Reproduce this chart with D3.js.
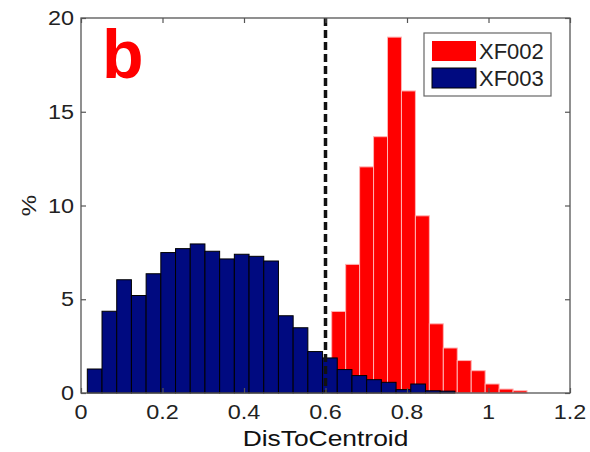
<!DOCTYPE html>
<html>
<head>
<meta charset="utf-8">
<script src="https://cdn.jsdelivr.net/npm/d3@7"></script>
<style>
  html, body { margin: 0; padding: 0; background: #fff; }
  svg { display: block; }
</style>
</head>
<body>
<svg id="chart" width="590" height="452"></svg>
<script>
// Histogram of distance to centroid (percent of samples per bin)
const seriesNames = ["XF002", "XF003"];
const seriesColors = ["#ff0000", "#000a80"];

// XF002 bins: start and width in DisToCentroid units
const xf002Start = 0.6152;
const xf002Width = 0.03424;
const xf002Values = [4.35, 6.86, 12.06, 13.67, 18.98, 16.11, 9.45, 3.69, 2.40, 1.73, 1.19, 0.48, 0.21, 0.12];

// XF003 bins
const xf003Start = 0.0155;
const xf003Width = 0.03608;
const xf003Values = [1.28, 4.36, 6.04, 5.20, 6.36, 7.49, 7.70, 7.95, 7.56, 7.15, 7.40, 7.29, 7.04,
                     4.12, 3.48, 2.21, 1.87, 1.25, 0.93, 0.71, 0.57, 0.18, 0.48, 0.12, 0.10];

const xTicks = [0, 0.2, 0.4, 0.6, 0.8, 1, 1.2];
const yTicks = [0, 5, 10, 15, 20];
const threshold = 0.6;

const svg = d3.select("#chart");
const plot = { left: 81, right: 570, top: 18, bottom: 393 };

const x = d3.scaleLinear().domain([0, 1.2]).range([plot.left, plot.right]);
const y = d3.scaleLinear().domain([0, 20]).range([plot.bottom, plot.top]);

function bins(start, width, values) {
  return values.map((v, i) => ({ x0: start + i * width, x1: start + (i + 1) * width, v }));
}

// XF002 first, XF003 drawn over it
svg.append("g").selectAll("rect")
  .data(bins(xf002Start, xf002Width, xf002Values))
  .join("rect")
  .attr("x", d => x(d.x0))
  .attr("width", d => x(d.x1) - x(d.x0))
  .attr("y", d => y(d.v))
  .attr("height", d => y(0) - y(d.v))
  .attr("fill", seriesColors[0])
  .attr("stroke", "#ffb3b3")
  .attr("stroke-width", 1);

svg.append("g").selectAll("rect")
  .data(bins(xf003Start, xf003Width, xf003Values))
  .join("rect")
  .attr("x", d => x(d.x0))
  .attr("width", d => x(d.x1) - x(d.x0))
  .attr("y", d => y(d.v))
  .attr("height", d => y(0) - y(d.v))
  .attr("fill", seriesColors[1])
  .attr("stroke", "#000000")
  .attr("stroke-width", 1);

// Threshold line
svg.append("line")
  .attr("x1", x(threshold)).attr("x2", x(threshold))
  .attr("y1", y(20)).attr("y2", y(0))
  .attr("stroke", "#111")
  .attr("stroke-width", 3.5)
  .attr("stroke-dasharray", "8,4");

// Axes box with inward ticks
const axisColor = "#555";
const tickLen = 5;
svg.append("rect")
  .attr("x", plot.left).attr("y", plot.top)
  .attr("width", plot.right - plot.left).attr("height", plot.bottom - plot.top)
  .attr("fill", "none").attr("stroke", axisColor).attr("stroke-width", 1.3);

const xAxisB = d3.axisBottom(x).tickValues(xTicks).tickSize(-tickLen).tickFormat(() => "");
const xAxisT = d3.axisTop(x).tickValues(xTicks).tickSize(-tickLen).tickFormat(() => "");
const yAxisL = d3.axisLeft(y).tickValues(yTicks).tickSize(-tickLen).tickFormat(() => "");
const yAxisR = d3.axisRight(y).tickValues(yTicks).tickSize(-tickLen).tickFormat(() => "");
[[xAxisB, `translate(0,${plot.bottom})`], [xAxisT, `translate(0,${plot.top})`],
 [yAxisL, `translate(${plot.left},0)`], [yAxisR, `translate(${plot.right},0)`]].forEach(([ax, tr]) => {
  const g = svg.append("g").attr("transform", tr).call(ax);
  g.select(".domain").remove();
  g.selectAll("line").attr("stroke", axisColor).attr("stroke-width", 1.2);
});

const font = "'Liberation Sans', Arial, Helvetica, sans-serif";
const sx = 1.2;

// X tick labels
svg.append("g").selectAll("text")
  .data(xTicks)
  .join("text")
  .attr("transform", d => `translate(${x(d)},419) scale(${sx},1)`)
  .attr("text-anchor", "middle")
  .attr("font-family", font).attr("font-size", 19.5)
  .attr("fill", "#222")
  .text(d => d3.format("")(d));

// Y tick labels
svg.append("g").selectAll("text")
  .data(yTicks)
  .join("text")
  .attr("transform", d => `translate(74,${y(d) + 7}) scale(${sx},1)`)
  .attr("text-anchor", "end")
  .attr("font-family", font).attr("font-size", 19.5)
  .attr("fill", "#222")
  .text(d => d);

// Axis titles
svg.append("text")
  .attr("transform", `translate(${(plot.left + plot.right) / 2},446) scale(${sx},1)`)
  .attr("text-anchor", "middle")
  .attr("font-family", font).attr("font-size", 22)
  .attr("fill", "#111")
  .text("DisToCentroid");

svg.append("text")
  .attr("transform", `translate(36,${y(10)}) rotate(-90) scale(${sx},1)`)
  .attr("text-anchor", "middle")
  .attr("font-family", font).attr("font-size", 20)
  .attr("fill", "#222")
  .text("%");

// Panel letter
svg.append("text")
  .attr("x", 102).attr("y", 78)
  .attr("font-family", font).attr("font-size", 68).attr("font-weight", "bold")
  .attr("fill", "#ff0000")
  .text("b");

// Legend
const legend = svg.append("g");
legend.append("rect")
  .attr("x", 424).attr("y", 33).attr("width", 127).attr("height", 63)
  .attr("fill", "#fff").attr("stroke", "#666").attr("stroke-width", 1.2);
seriesNames.forEach((name, i) => {
  const yy = 41 + i * 27;
  legend.append("rect")
    .attr("x", 432).attr("y", yy).attr("width", 44).attr("height", 20)
    .attr("fill", seriesColors[i])
    .attr("stroke", i === 1 ? "#000" : "none");
  legend.append("text")
    .attr("x", 479).attr("y", yy + 18)
    .attr("font-family", font).attr("font-size", 22)
    .attr("fill", "#222")
    .text(name);
});
</script>
</body>
</html>
